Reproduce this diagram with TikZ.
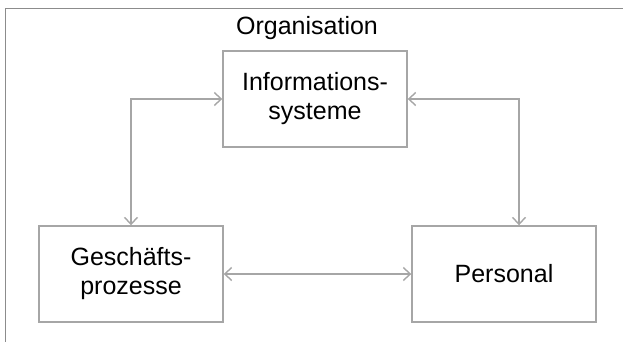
\documentclass[tikz,border=0pt]{standalone}
\usepackage{fontspec}
\setmainfont{Liberation Sans}
\usetikzlibrary{arrows.meta}
\usetikzlibrary{positioning}

\begin{document}
\begin{tikzpicture}[x=1pt,y=-1pt,>={Straight Barb[length=7pt,width=13pt]},
  box/.style={draw=black!35,line width=1.4pt,minimum width=184pt,minimum height=96pt,
    inner sep=0pt,align=center,font=\fontsize{25}{29}\selectfont},
  link/.style={draw=black!35,line width=1.4pt,<->}]

\useasboundingbox (0,0) rectangle (623,342);

% frame of the organisation
\draw [black!45,line width=1pt] (5,350) -- (5,9) -- (630,9);
\node (org) at (307,28) {\fontsize{25}{29}\selectfont Organisation};

\node [box] (is) at (315,99) {Informations-\\systeme};
\node [box] (gp) at (131,274) {Geschäfts-\\prozesse};
\node [box] (pers) at (504,274) {Personal};

\draw [link] (gp.north) |- (is.west);
\draw [link] (is.east) -| ([xshift=15pt]pers.north);
\draw [link] (gp) -- (pers);

\end{tikzpicture}
\end{document}
